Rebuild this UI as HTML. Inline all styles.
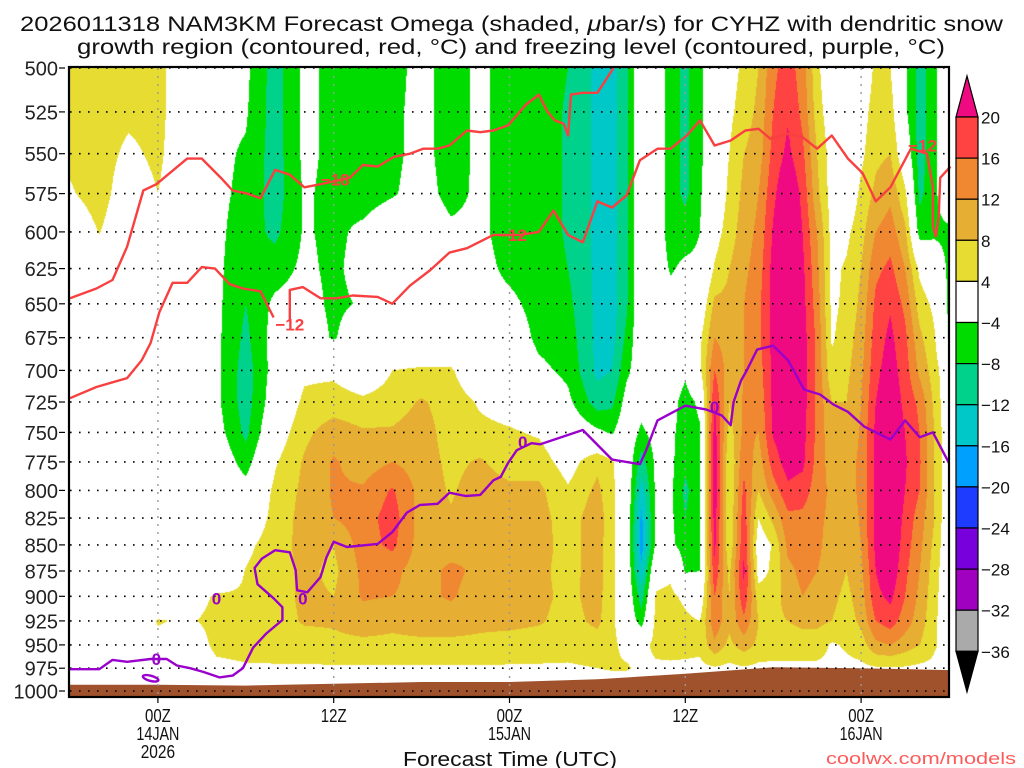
<!DOCTYPE html>
<html><head><meta charset="utf-8"><title>NAM3KM Omega cross-section CYHZ</title>
<style>
html,body{margin:0;padding:0;background:#fff;}
#wrap{position:relative;width:1024px;height:768px;overflow:hidden;background:#fff;}
#shade{position:absolute;left:69px;top:67px;}
#ov{position:absolute;left:0;top:0;}
text{font-family:"Liberation Sans",sans-serif;}
</style></head>
<body>
<div id="wrap">
<canvas id="shade" width="880" height="630"></canvas>
<svg id="ov" width="1024" height="768" xmlns="http://www.w3.org/2000/svg">
  <g id="ground"></g>
  <g id="grid"></g>
  <g id="contours"></g>
  <g id="clabels"></g>
  <rect x="69" y="67" width="880" height="630" fill="none" stroke="#000" stroke-width="2.2"/>
  <g id="yaxis"></g>
  <g id="xaxis"></g>
  <g id="cbar"></g>
  <text x="20" y="31" font-size="21" textLength="983" lengthAdjust="spacingAndGlyphs" fill="#111">2026011318 NAM3KM Forecast Omega (shaded, <tspan font-style="italic">μ</tspan>bar/s) for CYHZ with dendritic snow</text>
  <text x="77" y="54" font-size="21" textLength="868" lengthAdjust="spacingAndGlyphs" fill="#111">growth region (contoured, red, °C) and freezing level (contoured, purple, °C)</text>
  <text x="510" y="766" font-size="20" text-anchor="middle" textLength="214" lengthAdjust="spacingAndGlyphs" fill="#111">Forecast Time (UTC)</text>
  <text x="1016" y="764" font-size="17" text-anchor="end" textLength="190" lengthAdjust="spacingAndGlyphs" fill="#FF5A5A">coolwx.com/models</text>
</svg>
</div>
<script>
// ---- data (hours relative to 00Z 14JAN, pressure in hPa) ----
const hours = [-6,-4,-2,0,2,4,6,8,10,12,14,16,18,20,22,24,26,28,30,31,32,33,34,35,36,37,38,39,40,41,42,43,44,45,46,47,48,49,50,51,52,53,54];
const levels = [500,525,550,575,600,625,650,675,700,725,750,775,800,825,850,875,900,925,950,975,1000];
const omega = [
[6,6,5,3.5,0,0,0,0,0,0,0,0,0,0,0,0,0,0,0,0,0],
[6,6,6,6,4.2,1,0,0,0,0,0,0,0,0,0,0,0,0,0,0,0],
[6,5,3,1,0,0,0,0,0,0,0,0,0,0,0,0,0,0,0,0,0],
[5.5,5.5,5,4,2,0,0,0,0,0,0,0,0,0,0,0,0,4.3,3,0,0],
[0,0,0,0,0,0,0,0,0,0,0,0,0,0,0,0,2,3.5,1,0,0],
[-3,-3,-3,-3,-3,-3,-3,-3,-3,-3,-2,0,0,0,0,0,4.5,5,5,3,0],
[-3,-3.5,-4.5,-5,-6,-7,-8,-9,-10,-10,-9,-6,-2,0,3,4.2,4.5,5.5,5.5,3.5,0],
[-10,-10,-10,-10,-9,-6,-3,-2,-2,-1,1,3.5,5,5.5,6,6,6,6,6,3.5,0],
[-3,-3,-3,-3.5,-3.5,-3,-2,-1,3,5,7,8.5,9,9.5,9.5,9,9,8.5,6,3.5,0],
[-5,-5,-5,-5,-5,-5,-5,-4.5,3,6,10,12.5,12.5,12,8,7,8,8.5,7,3.5,0],
[-6,-6,-6,-6,-3,-2,-3.5,0,0,5,8.5,10,12.5,14,14,13,12.5,10,7,3.5,0],
[-5.5,-5,-5,-4.5,0,0,0,0,4,6,8.5,12,16.5,18,17,13,12,9,7,3.5,0],
[-2.5,-2.5,-2.5,-2,0,0,0,0,4.5,8.5,10,10,10.5,10,10,10,11,10,7,3.5,0],
[-6,-6,-6,-5.5,-3,0,0,0,4.5,6,6,7,7.5,8.5,10,13,12.5,10,7,3.5,0],
[-3,-3,-3,-3,-3,-2.5,-2,0,0,3.5,5,8.5,10,11,12,11,10,9,7,3.5,0],
[-6,-6,-6,-6,-6,-5,-3,-1,0,2,4.5,6,9,11,11,9.5,9,9,6.5,3.5,0],
[-6,-6,-6,-6,-6,-6,-5.5,-5,-3,0,3.5,6,9,9.5,9.5,9,9,8.5,6,3.5,0],
[-8,-8.5,-8.5,-8.5,-8.5,-8,-7,-6,-5,-3,0,2,4.5,6,6.5,6.5,7,6.5,5.5,3.5,0],
[-13,-13,-13,-13,-13,-13,-13,-13,-13,-10,-3,7,9,10.5,10,10,9.5,9,6,4,0],
[-14,-14,-14,-14,-14,-14,-14,-13.5,-12,-9,-4.5,4.5,5,5,5,5,5,5,5,4.5,0],
[-8.5,-8.5,-8.5,-8.5,-8.5,-8.5,-8.5,-7,-5,-2,0,0,0,0,0,0,0,0,2.5,4.5,0],
[0,0,0,0,0,0,0,0,-1,-2,-5,-10,-14,-17,-18,-15,-10,-6,2,3,0],
[-1,-1,-1,-1,-1,-1,-1,0,0,0,-2,-3,-3,-3,-3,2,4.5,5.5,5.5,3,0],
[-6,-6,-6,-6,-6,-4.5,-2,0,0,-2,-3,-3,-3,-3,-3,3,5,6,6,3,0],
[-9,-9,-9,-9,-6,-3,-2,0,-3,-6,-6,-7,-9,-8,-6,-4.5,3,5,5.5,3,0],
[-5,-5,-5,-4.5,-4,-3,0,3,3,-3,-4.5,-5,-5,-4.5,-4.5,-4,0,4,5,3,0],
[0,0,0,0,2,4.5,9,12,16,20,22,23,23,22,21,19,16,15,11,3.5,0],
[2,3,4,5,6,8,9,10,10,8,6,4,4,4,4.5,7,8,9,7,3,0],
[5,6,8,9,10,11,12,12,12,12.5,13,15,17,18.5,19.5,21,19,15,10,3.5,0],
[8,9,10,12,13,14,15,15,14,13,12,10,8,4,1,2,6,8,7,3,0],
[15,16,17.5,19,20.5,21.5,21.5,21.5,21,21,20.5,18,14,9,4.5,5,6,7,6,3,0],
[18,19.5,21,24,25,25,25,25,25,24,23,22,19,15,13,11,10,8,6,3,0],
[14,15,17,19,20,21,21.5,22,22,22,21.5,21,18,15,14,13,12,9,6,3,0],
[5,6,8,9,12,13,14,15,15,15,15,14.5,14,13,13,12,11,9,6,3,0],
[0,1,2,2,2.5,3,3,3.5,5,8,9,10,11,11,10,10,9,8,3.5,3,0],
[0,0,0,0,3,4.5,5,6,7,8,9,10,10,9.5,9,8,7,6,4.5,3,0],
[0,2,3,5,6.5,8,9,10,11,12,12.5,13,13,12.5,12,11,10,9,6,3,0],
[5,6,7,9,12,15,17,18,19,20,21,21,21,21,21,20,19,16,11,3.5,0],
[4,6,8,11,14,17,19.5,21,22,23,24,24,24,24,24,23,21,18,12,3.5,0],
[-3,-3,0,5,9,12,15,17,18,19,20,20.5,20,19,18,17,16,14,10,3.5,0],
[-10,-10,-10,-9,-6,3,6,9,11,15,16,16.5,16,14,13,12,11,10,8,3,0],
[-5,-5,-5,-5,-5,0,3,4.5,6,7,8,8,8,8,7,6,5.5,5,4.5,3,0],
[0,0,0,0,-5,-5,-5,-4.5,0,0,0,0,0,0,0,0,0,0,2,3,0]
];
const surfHours = [-6,0,6,12,18,24,30,36,42,48,54];
const surfP = [993,993,994,992,990,990,987,981,974,975,977];

const m18Hours = [-6,-4.2,-3.1,-2.1,-1,-0.1,2,3,4.4,5.1,6.1,7,8,9,10,11.1,13.1,14,15,16.1,17.2,18.1,19.1,19.9,21.1,22,22.9,23.9,24.2,25.1,26,26.6,27.1,27.7,28,28.2,29,30,31.1];
const m18P = [646,639,633,610,573,569,553,553,566,573,575,578,560,563,571,569,565,557,558,552,550,547,547,545,536,537,536,533,530,521,515,525,530,532,539,515,514,514,500];
const m12aHours = [-6,-4.2,-2.1,-1.1,-0.5,0.1,1,2,3,3.9,4.9,5.8,7,7.9];
const m12aP = [722,713,706,692,679,656,635,635,624,625,636,639,641,660];
const m12bHours = [9,9,9.9,11.1,12.2,13.3,15,16,17.2,18.6,19.9,21.1,22.9,24.7,26,27,28,29,30,31,32,32.9,34.1,35,36.1,37,38,39.1,40.1,41,41.8,43,44,45,46,47.1,48.1,49,50,51.4,52.5,52.9,52.9,53.1,53.3,53.4,54.1];
const m12bP = [663,640,638,646,646,644,645,650,637,626,614,611,602,602,600,586,602,607,580,584,576,554,547,547,539,530,545,542,536,535,541,538,540,547,539,553,562,580,571,547,550,571,596,603,590,565,558];
const frzHours = [-6,-4,-3.1,-2.1,-0.5,0.6,1.3,2.2,3.1,4.2,5.1,5.8,6.5,7.4,8.5,8.5,7.9,6.8,6.6,7.1,8,9,9.4,9.5,10.2,11.1,11.5,12,12.9,15,16,17,17.9,19.1,19.9,21,22,22.9,23.4,23.9,24.5,25.5,26.1,29,31,32.9,33.3,34.1,36,37.4,38.5,39.1,39.3,39.8,40.2,40.9,42,43,43.4,44.1,45.2,46.1,47.1,48.2,50,51,52,52.9,54];
const frzP = [976,976,966,968,965,965,972,975,979,985,983,975,953,938,924,911,902,888,872,863,855,857,874,894,896,881,862,847,852,849,838,820,813,812,802,805,804,791,788,776,765,759,760,748,773,777,766,740,728,731,736,744,725,708,700,684,681,692,700,715,719,727,733,745,756,740,754,750,776];
const m18LabelH = [12.1], m18LabelP = [566];
const m12LabelH = [9.0, 24.2, 52.2], m12LabelP = [665, 602, 545];
const frzLabelH = [-0.1, 4.0, 9.9, 24.9, 38.0], frzLabelP = [965, 902, 902, 758, 729];
const timeTicks = [0,12,24,36,48];
const timeLabels = [["00Z","14JAN","2026"],["12Z"],["00Z","15JAN"],["12Z"],["00Z","16JAN"]];
const cbTicks = [20,16,12,8,4,-4,-8,-12,-16,-20,-24,-28,-32,-36];
const cbColors = ["#FF4242","#F08832","#E6AE32","#E6DC32","#FFFFFF","#00DC00","#00D28C","#00C8C8","#00A0FF","#1E3CFF","#7800DC","#A000C0","#AAAAAA"];

// ---- axes ----
const X0 = 70, XS = 879/60;
function xOf(h){ return X0 + (h + 6) * XS; }
function yOf(p){ return 68 + 623 * Math.log2(p / 500); }
const NS = "http://www.w3.org/2000/svg";
function mk(tag, attrs, parent){ const e = document.createElementNS(NS, tag); for (const k in attrs) e.setAttribute(k, attrs[k]); parent.appendChild(e); return e; }

// ---- shading ----
function shadeColor(v){
  if (v >= 20) return [240,10,130];
  if (v >= 16) return [255,66,66];
  if (v >= 12) return [240,136,50];
  if (v >= 8) return [230,174,50];
  if (v >= 4) return [230,220,50];
  if (v > -4) return [255,255,255];
  if (v > -8) return [0,220,0];
  if (v > -12) return [0,210,140];
  if (v > -16) return [0,200,200];
  if (v > -20) return [0,160,255];
  if (v > -24) return [30,60,255];
  if (v > -28) return [120,0,220];
  if (v > -32) return [160,0,192];
  if (v > -36) return [170,170,170];
  return [0,0,0];
}
(function(){
  const cv = document.getElementById('shade');
  const ctx = cv.getContext('2d');
  const W = cv.width, H = cv.height;
  const img = ctx.createImageData(W, H);
  const colK = [], colT = [];
  for (let i = 0; i < W; i++) {
    let h = (69 + i + 0.5 - X0) / XS - 6;
    h = Math.max(hours[0], Math.min(hours[hours.length-1], h));
    let k = 0; while (k < hours.length - 2 && hours[k+1] < h) k++;
    colK.push(k); colT.push((h - hours[k]) / (hours[k+1] - hours[k]));
  }
  const dp = levels[1] - levels[0];
  for (let j = 0; j < H; j++) {
    const y = 67 + j + 0.5;
    const p = 500 * Math.pow(2, (y - 68) / 623);
    let li = (p - levels[0]) / dp; li = Math.max(0, Math.min(levels.length - 1.0001, li));
    const l0 = Math.floor(li), u = li - l0;
    for (let i = 0; i < W; i++) {
      const k = colK[i], t = colT[i];
      const a = omega[k], b = omega[k+1];
      const v0 = a[l0] * (1-u) + a[l0+1] * u;
      const v1 = b[l0] * (1-u) + b[l0+1] * u;
      const c = shadeColor(v0 * (1-t) + v1 * t);
      const o = (j * W + i) * 4;
      img.data[o] = c[0]; img.data[o+1] = c[1]; img.data[o+2] = c[2]; img.data[o+3] = 255;
    }
  }
  ctx.putImageData(img, 0, 0);
})();

// ---- ground ----
(function(){
  const g = document.getElementById('ground');
  let pts = surfHours.map((h, i) => xOf(h).toFixed(1) + "," + yOf(surfP[i]).toFixed(1));
  pts.push(xOf(54).toFixed(1) + ",697", xOf(-6).toFixed(1) + ",697");
  const poly = mk('polygon', {points: pts.join(" "), fill: "#A0522D"}, g);
  
  
})();

// ---- grid ----
(function(){
  const g = document.getElementById('grid');
  levels.forEach(p => {
    const ln = mk('line', {x1: 70, x2: 949, y1: yOf(p).toFixed(1), y2: yOf(p).toFixed(1), stroke: "#000", "stroke-width": 1.6, "stroke-dasharray": "1.6 7.4"}, g);
    
    
  });
  timeTicks.forEach(h => {
    const ln = mk('line', {x1: xOf(h).toFixed(1), x2: xOf(h).toFixed(1), y1: 68, y2: 697, stroke: "#999", "stroke-width": 1.4, "stroke-dasharray": "2 6"}, g);
    
    
  });
})();

// ---- contours ----
(function(){
  const g = document.getElementById('contours');
  function line(hs, ps, color, name){
    const d = hs.map((h, i) => (i ? "L" : "M") + xOf(h).toFixed(1) + " " + yOf(ps[i]).toFixed(1)).join(" ");
    const p = mk('path', {d: d, fill: "none", stroke: color, "stroke-width": 2.4, "stroke-linejoin": "round"}, g);
    
    
  }
  line(m18Hours, m18P, "#F84040", "isotherm-minus18");
  line(m12aHours, m12aP, "#F84040", "isotherm-minus12-left");
  line(m12bHours, m12bP, "#F84040", "isotherm-minus12-right");
  line(frzHours, frzP, "#9A00CC", "freezing-level-line");
  const el = mk('ellipse', {cx: xOf(-0.5).toFixed(1), cy: yOf(986).toFixed(1), rx: 8, ry: 2.6, fill: "none", stroke: "#9A00CC", "stroke-width": 2.4, transform: "rotate(15 " + xOf(-0.5).toFixed(1) + " " + yOf(986).toFixed(1) + ")"}, g);
  
  

  const lg = document.getElementById('clabels');
  function lab(hs, ps, txt, color, name){
    hs.forEach((h, i) => {
      const t = mk('text', {x: xOf(h).toFixed(1), y: (yOf(ps[i]) + 6).toFixed(1), "font-size": 17, "font-weight": "bold", "text-anchor": "middle", fill: color}, lg);
      t.textContent = txt;
      
      
    });
  }
  lab(m18LabelH, m18LabelP, "−18", "#F84040", "isotherm-label");
  lab(m12LabelH, m12LabelP, "−12", "#F84040", "isotherm-label");
  lab(frzLabelH, frzLabelP, "0", "#9A00CC", "freezing-level-label");
})();

// ---- axes labels ----
(function(){
  const ya = document.getElementById('yaxis');
  levels.forEach(p => {
    const y = yOf(p);
    const tk = mk('line', {x1: 59, x2: 65, y1: y.toFixed(1), y2: y.toFixed(1), stroke: "#000", "stroke-width": 1.2}, ya);
    
    
    const t = mk('text', {x: 58, y: (y + 7.5).toFixed(1), "font-size": 20, "text-anchor": "end", fill: "#222"}, ya);
    t.textContent = String(p);
    
    
  });
  const xa = document.getElementById('xaxis');
  timeTicks.forEach((h, i) => {
    const x = xOf(h);
    const tk = mk('line', {x1: x.toFixed(1), x2: x.toFixed(1), y1: 697, y2: 703, stroke: "#000", "stroke-width": 1.2}, xa);
    
    
    timeLabels[i].forEach((s, r) => {
      const t = mk('text', {x: x.toFixed(1), y: 722 + r * 18, "font-size": 18, "text-anchor": "middle", fill: "#111", textLength: s.length * 8.6, lengthAdjust: "spacingAndGlyphs"}, xa);
      t.textContent = s;
      
      
    });
  });
})();

// ---- colorbar ----
(function(){
  const g = document.getElementById('cbar');
  const x = 956, w = 22, top = 117, bh = 41.1;
  const tri = mk('polygon', {points: x + "," + top + " " + (x + w) + "," + top + " " + (x + w/2) + ",76", fill: "#F00A82", stroke: "#000", "stroke-width": 1.2}, g);
  
  
  cbColors.forEach((c, i) => {
    const r = mk('rect', {x: x, y: (top + i * bh).toFixed(1), width: w, height: bh.toFixed(1), fill: c, stroke: "#000", "stroke-width": 1.2}, g);
    
    
  });
  const bot = top + cbColors.length * bh;
  const tri2 = mk('polygon', {points: x + "," + bot.toFixed(1) + " " + (x + w) + "," + bot.toFixed(1) + " " + (x + w/2) + ",692", fill: "#000", stroke: "#000", "stroke-width": 1.2}, g);
  
  
  cbTicks.forEach((v, i) => {
    const t = mk('text', {x: 981, y: (top + i * bh + 6.5).toFixed(1), "font-size": 17, fill: "#111"}, g);
    t.textContent = v < 0 ? "−" + Math.abs(v) : String(v);
    
    
  });
})();
</script>
</body></html>
